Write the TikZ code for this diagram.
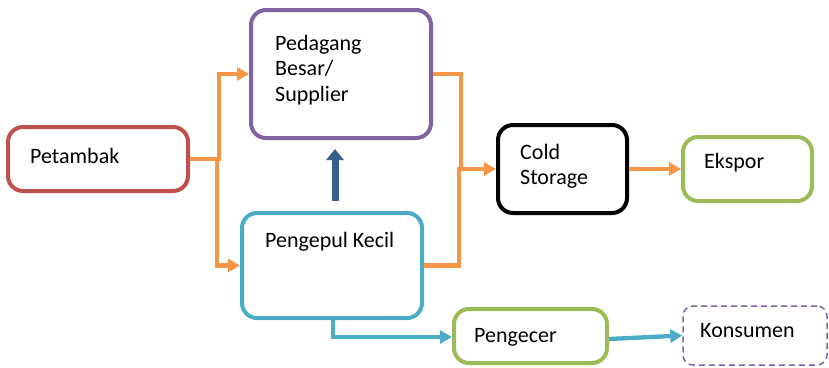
\documentclass[tikz,border=0pt]{standalone}
\usepackage{fontspec}
\setmainfont{Carlito}
\usetikzlibrary{arrows.meta,calc}
\definecolor{cred}{HTML}{C0504D}
\definecolor{cpurple}{HTML}{8064A2}
\definecolor{cblue}{HTML}{4BACC6}
\definecolor{cgreen}{HTML}{9BBB59}
\definecolor{corange}{HTML}{F79646}
\definecolor{cdark}{HTML}{385D8A}
\begin{document}
\begin{tikzpicture}[x=1pt,y=-1pt,
  box/.style={draw=#1,line width=4pt,rounded corners=15pt,inner sep=0pt,fill=white},
  lbl/.style={anchor=west,align=left,inner sep=0pt,font=\fontsize{22}{25.5}\selectfont},
  oline/.style={draw=corange,line width=4.3pt},
  oarrow/.style={oline,-{Triangle[length=12pt,width=13pt]}},
  bline/.style={draw=cblue,line width=4.3pt},
  barrow/.style={bline,-{Triangle[length=12pt,width=13pt]}},
  darrow/.style={draw=cdark,line width=7pt,-{Triangle[length=11pt,width=17pt]}}]
\useasboundingbox (0,0) rectangle (829,367);
\fill[white] (0,0) rectangle (829,367);
% boxes
\node[box=cred,minimum width=180pt,minimum height=64pt] (pet) at (98,159) {};
\node[box=cpurple,minimum width=180pt,minimum height=128pt] (ped) at (341,74) {};
\node[box=cblue,minimum width=180pt,minimum height=105pt] (pen) at (332,265.5) {};
\node[box=black,minimum width=129pt,minimum height=88pt] (cold) at (562.5,169) {};
\node[box=cgreen,minimum width=129pt,minimum height=64pt] (eks) at (747.5,169) {};
\node[box=cgreen,minimum width=153pt,minimum height=54pt] (peng) at (530.5,336) {};
\node[draw=cpurple,line width=1.5pt,dashed,dash pattern=on 6pt off 4pt,rounded corners=10pt,inner sep=0pt,minimum width=144pt,minimum height=59pt] (kon) at (755,335.5) {};
% labels
\node[lbl] (tpet) at (30,156) {Petambak};
\node[lbl] (tped) at (275,70) {Pedagang\\Besar/\\Supplier};
\node[lbl] (tpen) at (265,242) {Pengepul Kecil};
\node[lbl] (tcold) at (520,166) {Cold\\Storage};
\node[lbl] (teks) at (704,163) {Ekspor};
\node[lbl] (tpeng) at (474,337) {Pengecer};
\node[lbl] (tkon) at (700,331) {Konsumen};
% connectors
\coordinate (j1) at ($(pet.east)+(29,0)$);
\coordinate (j1b) at ($(pet.east)+(27,0)$);
\draw[oarrow] (pet.east) -- (j1) |- (ped.west);
\draw[oarrow] (j1b) |- (pen.west);
\coordinate (j2) at ($(cold.west)+(-37,0)$);
\draw[oline] (ped.east) -| ($(j2)+(2,0)$);
\draw[oline] (pen.east) -| (j2);
\draw[oarrow] ($(j2)+(-2,0)$) -- (cold.west);
\draw[oarrow] (cold.east) -- (eks.west);
\draw[darrow] ($(pen.north)+(3,-10)$) -- ($(ped.south)+(-6,9)$);
\draw[barrow] ($(pen.south)+(1,0)$) |- ($(peng.west)+(0,1)$);
\draw[barrow] ($(peng.east)+(0,3)$) -- (kon.west);
\end{tikzpicture}
\end{document}
